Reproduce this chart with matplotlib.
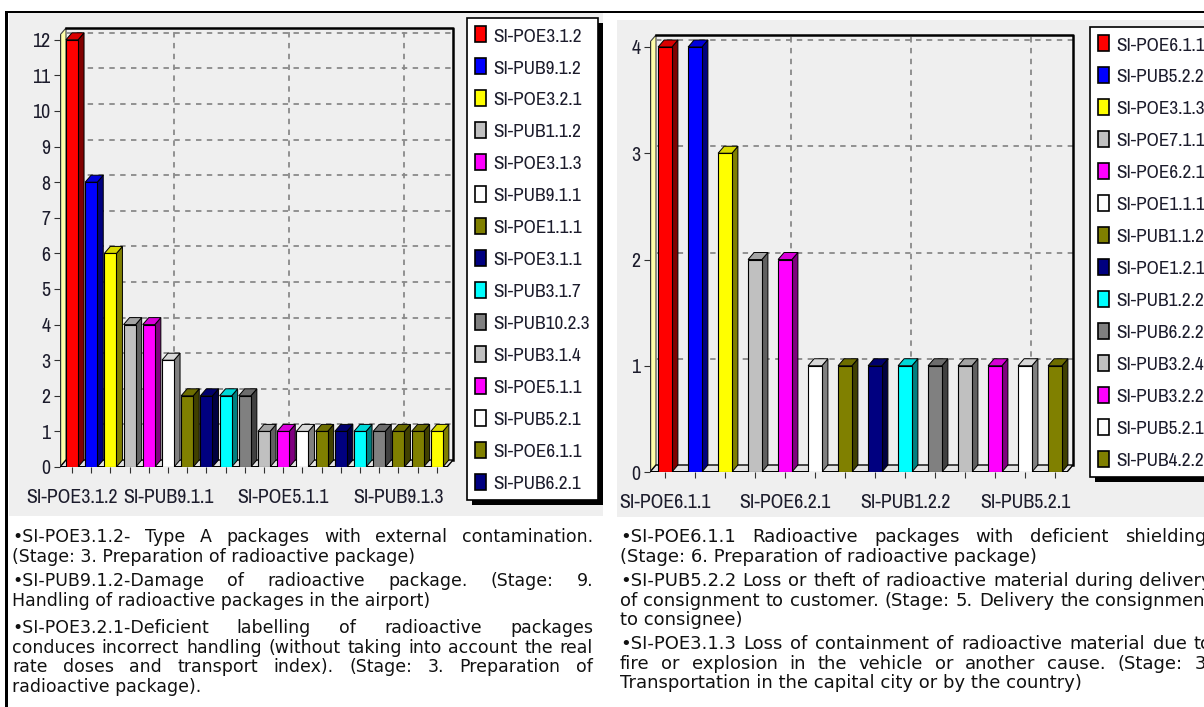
import matplotlib
matplotlib.use('Agg')
import matplotlib.pyplot as plt
from matplotlib.patches import Polygon, Rectangle, Patch
from matplotlib import font_manager
import matplotlib.colors as mcolors
import numpy as np

W, H = 1204, 707
BG = '#efefef'
INK = '#1c1c2c'

# narrow face for the chart texts, first one that is installed
_have = set(f.name for f in font_manager.fontManager.ttflist)
_narrow = [f for f in ['Liberation Sans Narrow', 'Arial Narrow', 'Pragati Narrow',
                       'Archivo Narrow', 'Roboto Condensed', 'PT Sans Narrow'] if f in _have]
CHART_FONT = _narrow[:1] + ['DejaVu Sans']
BODY_FONT = ['DejaVu Sans']

SILVER, GRAY, OLIVE, NAVY = '#c0c0c0', '#808080', '#808000', '#000080'

# ---- left chart data ----
left_names = ['SI-POE3.1.2', 'SI-PUB9.1.2', 'SI-POE3.2.1', 'SI-PUB1.1.2', 'SI-POE3.1.3',
              'SI-PUB9.1.1', 'SI-POE1.1.1', 'SI-POE3.1.1', 'SI-PUB3.1.7', 'SI-PUB10.2.3',
              'SI-PUB3.1.4', 'SI-POE5.1.1', 'SI-PUB5.2.1', 'SI-POE6.1.1', 'SI-PUB6.2.1',
              '', '', 'SI-PUB9.1.3', '', '']
left_values = [12, 8, 6, 4, 4, 3, 2, 2, 2, 2, 1, 1, 1, 1, 1, 1, 1, 1, 1, 1]
left_colors = ['red', 'blue', 'yellow', SILVER, 'magenta', 'white', OLIVE, NAVY, 'cyan', GRAY,
               SILVER, 'magenta', 'white', OLIVE, NAVY, 'cyan', GRAY, OLIVE, OLIVE, 'yellow']
left_label_idx = [0, 5, 11, 17]
left_legend_count = 15

# ---- right chart data ----
right_names = ['SI-POE6.1.1', 'SI-PUB5.2.2', 'SI-POE3.1.3', 'SI-POE7.1.1', 'SI-POE6.2.1',
               'SI-POE1.1.1', 'SI-PUB1.1.2', 'SI-POE1.2.1', 'SI-PUB1.2.2', 'SI-PUB6.2.2',
               'SI-PUB3.2.4', 'SI-PUB3.2.2', 'SI-PUB5.2.1', 'SI-PUB4.2.2']
right_values = [4, 4, 3, 2, 2, 1, 1, 1, 1, 1, 1, 1, 1, 1]
right_colors = ['red', 'blue', 'yellow', SILVER, 'magenta', 'white', OLIVE, NAVY, 'cyan', GRAY,
                SILVER, 'magenta', 'white', OLIVE]
right_label_idx = [0, 4, 8, 12]
right_legend_count = 14

# ---- notes under the charts ----
left_text = [
    ["\u2022SI-POE3.1.2- Type A packages with external contamination.",
     "(Stage: 3. Preparation of radioactive package)"],
    ["\u2022SI-PUB9.1.2-Damage of radioactive package. (Stage: 9.",
     "Handling of radioactive packages in the airport)"],
    ["\u2022SI-POE3.2.1-Deficient labelling of radioactive packages",
     "conduces incorrect handling (without taking into account the real",
     "rate doses and transport index). (Stage: 3. Preparation of",
     "radioactive package)."],
]
right_text = [
    ["\u2022SI-POE6.1.1 Radioactive packages with deficient shielding.",
     "(Stage: 6. Preparation of radioactive package)"],
    ["\u2022SI-PUB5.2.2 Loss or theft of radioactive material during delivery",
     "of consignment to customer. (Stage: 5. Delivery the consignment",
     "to consignee)"],
    ["\u2022SI-POE3.1.3 Loss of containment of radioactive material due to",
     "fire or explosion in the vehicle or another cause. (Stage: 3.",
     "Transportation in the capital city or by the country)"],
]

fig = plt.figure(figsize=(W / 100, H / 100), dpi=100)
fig.patch.set_facecolor('white')


def fx(x):
    return x / W


def fy(y):
    return 1 - y / H


def add_rect(x0, y0, x1, y1, **kw):
    fig.add_artist(Rectangle((fx(x0), fy(y1)), (x1 - x0) / W, (y1 - y0) / H,
                             transform=fig.transFigure, **kw))


# panel backgrounds and frame lines
add_rect(9, 13, 603, 516, fc=BG, ec='none', zorder=-2)
add_rect(617, 20, 1204, 517, fc=BG, ec='none', zorder=-2)
add_rect(8, 11, 1204, 13, fc='black', ec='none', zorder=-1)
add_rect(5, 11, 8, 707, fc='black', ec='none', zorder=-1)


def draw_chart(box, values, colors, names, label_idx, first_px, pitch_px, ppu,
               depth, bar_w):
    left, top, right, bottom = box
    ax = fig.add_axes([fx(left), fy(bottom), (right - left) / W, (bottom - top) / H])
    n = len(values)
    x = np.arange(n)
    x0 = (left - first_px) / pitch_px
    x1 = (right - first_px) / pitch_px
    ytop = (bottom - top) / ppu
    dx = depth[0] / pitch_px
    dy = depth[1] / ppu
    ax.set_xlim(x0, x1)
    ax.set_ylim(0, ytop)
    ax.set_facecolor('none')
    for s in ax.spines.values():
        s.set_visible(False)

    # back wall, side wall, floor
    ax.add_patch(Rectangle((x0 + dx, dy), x1 - x0 - dx, ytop - dy, fc=BG, ec='none', zorder=0.5))
    ax.add_patch(Polygon([(x0, 0), (x0 + dx, dy), (x0 + dx, ytop), (x0, ytop - dy)],
                         closed=True, fc='#ffffa8', ec='#404040', lw=0.8, zorder=1))
    ymax = int(ytop - dy)
    for v in range(1, ymax + 1):
        ax.plot([x0 + dx, x1], [v + dy, v + dy], color='#8a8a8a', lw=1.3,
                ls=(0, (3, 3)), zorder=1)
    for i in label_idx[1:]:
        ax.plot([i + dx, i + dx], [dy, ytop], color='#8a8a8a', lw=1.3,
                ls=(0, (3, 3)), zorder=1)
    ax.plot([x0 + dx, x1, x1], [ytop, ytop, dy], color='black', lw=1.8, zorder=2,
            clip_on=False)
    ax.add_patch(Polygon([(x0, 0), (x0 + dx, dy), (x1, dy), (x1 - dx, 0)],
                         closed=True, fc='#e4e4e4', ec='black', lw=1, zorder=1.5))

    # 3D bars: side and top faces, then fronts
    for i, (v, c) in enumerate(zip(values, colors)):
        rgb = np.array(mcolors.to_rgb(c))
        z = 3 + i * 0.01
        xl, xr = i - bar_w / 2, i + bar_w / 2
        ax.add_patch(Polygon([(xr, 0), (xr + dx, dy), (xr + dx, v + dy), (xr, v)],
                             closed=True, fc=rgb * 0.5, ec='black', lw=0.7, zorder=z))
        ax.add_patch(Polygon([(xl, v), (xl + dx, v + dy), (xr + dx, v + dy), (xr, v)],
                             closed=True, fc=rgb * 0.85, ec='black', lw=0.7, zorder=z))
    ax.bar(x, values, width=bar_w, color=colors, edgecolor='black', linewidth=0.8,
           zorder=3.5)

    # front axis lines
    ax.plot([x0, x0], [0, ytop - dy], color='#303030', lw=1, zorder=2)
    ax.plot([x0, x1 - dx], [0, 0], color='black', lw=1.4, zorder=2)

    ax.set_yticks(range(0, ymax + 1))
    ax.set_xticks(x)
    ax.set_xticklabels([names[i] if i in label_idx else '' for i in x])
    ax.tick_params(axis='both', direction='out', length=4, width=0.8, color='#303030',
                   labelsize=15.5, labelcolor=INK)
    ax.tick_params(axis='x', pad=11)
    ax.tick_params(axis='y', pad=3)
    for lab in ax.get_xticklabels() + ax.get_yticklabels():
        lab.set_fontfamily(CHART_FONT)
    return ax


def add_legend(names, colors, count, lx, ly):
    handles = [Patch(fc=c, ec='black', lw=1.2) for c in colors[:count]]
    leg = fig.legend(handles, names[:count], loc='upper left',
                     bbox_to_anchor=(fx(lx), fy(ly)), bbox_transform=fig.transFigure,
                     frameon=True, fancybox=False, framealpha=1, facecolor='white',
                     prop={'family': CHART_FONT, 'size': 15},
                     handlelength=0.5, handleheight=0.8, handletextpad=0.35,
                     labelspacing=0.66, borderpad=0.4, borderaxespad=0, labelcolor=INK)
    leg.get_frame().set_edgecolor('black')
    leg.get_frame().set_linewidth(1.2)
    return leg


draw_chart((60, 28, 453, 467), left_values, left_colors, left_names, left_label_idx,
           first_px=72, pitch_px=19.2, ppu=35.6, depth=(6, 7), bar_w=0.63)
draw_chart((650, 35, 1073, 472), right_values, right_colors, right_names, right_label_idx,
           first_px=665, pitch_px=30.0, ppu=106.25, depth=(6, 7), bar_w=0.46)

legs = [add_legend(left_names, left_colors, left_legend_count, 467, 18),
        add_legend(right_names, right_colors, right_legend_count, 1090, 27)]

fig.canvas.draw()
renderer = fig.canvas.get_renderer()

# black drop shadows behind the legends
for leg in legs:
    bb = leg.get_window_extent(renderer)
    fig.add_artist(Rectangle(((bb.x0 + 5) / W, (bb.y0 - 5) / H), bb.width / W, bb.height / H,
                             transform=fig.transFigure, fc='black', ec='none', zorder=4.9))


def put_line(text, x0, x1, y, size, justify):
    words = text.split(' ')
    kw = dict(fontsize=size, family=BODY_FONT, color='#111111', va='center', ha='left')
    if not justify or len(words) == 1:
        fig.text(fx(x0), fy(y), text, **kw)
        return
    objs = [fig.text(0, fy(y), w, **kw) for w in words]
    widths = [o.get_window_extent(renderer).width for o in objs]
    gap = (x1 - x0 - sum(widths)) / (len(words) - 1)
    xpos = x0
    for o, w in zip(objs, widths):
        o.set_x(fx(xpos))
        xpos += w + gap


def put_notes(paras, starts, x0, x1, pitch, size):
    for para, y0 in zip(paras, starts):
        for k, line in enumerate(para):
            put_line(line, x0, x1, y0 + k * pitch, size, k < len(para) - 1)


put_notes(left_text, [537, 581, 628], 12, 593, 19.6, 12.5)
put_notes(right_text, [537, 581, 644], 620, 1212, 19.6, 13)

fig.savefig('out.png', dpi=100, facecolor='white')
